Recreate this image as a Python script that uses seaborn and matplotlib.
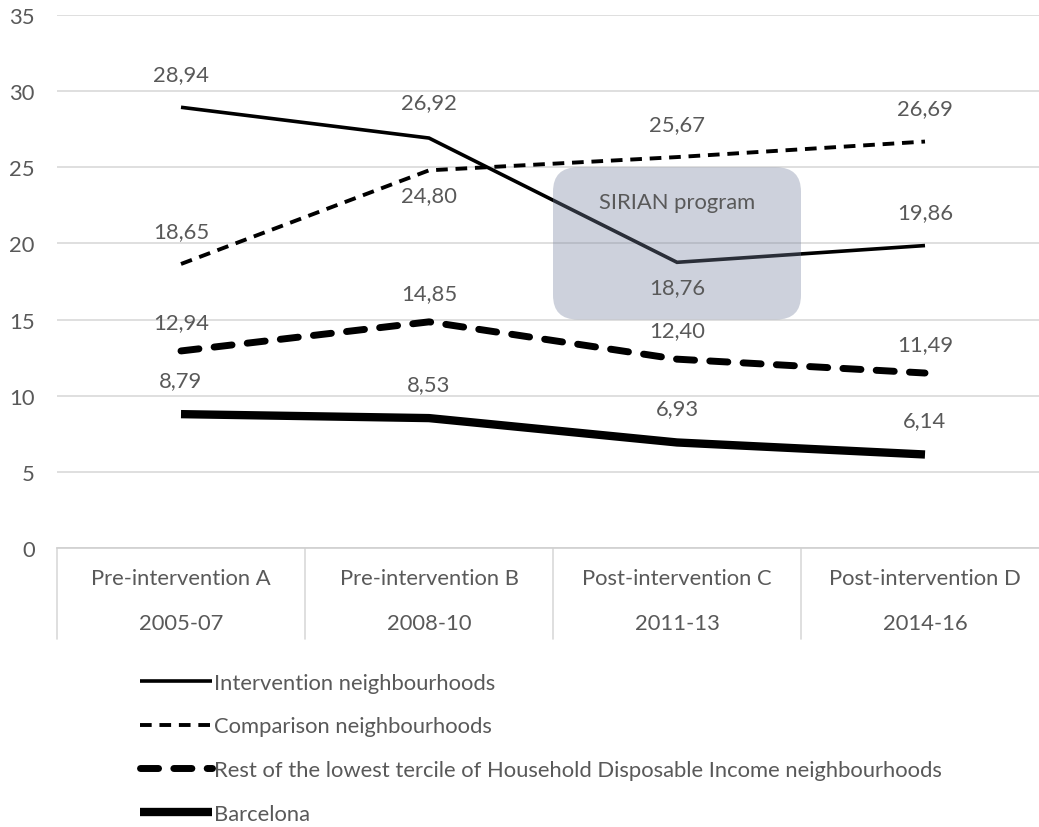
import matplotlib
matplotlib.use("Agg")
import matplotlib.pyplot as plt
import seaborn as sns
from matplotlib.patches import FancyBboxPatch
from matplotlib.lines import Line2D

categories = ["Pre-intervention A", "Pre-intervention B", "Post-intervention C", "Post-intervention D"]
periods = ["2005-07", "2008-10", "2011-13", "2014-16"]
intervention = [28.94, 26.92, 18.76, 19.86]
comparison = [18.65, 24.80, 25.67, 26.69]
rest_tercile = [12.94, 14.85, 12.40, 11.49]
barcelona = [8.79, 8.53, 6.93, 6.14]
series_names = ["Intervention neighbourhoods", "Comparison neighbourhoods",
                "Rest of the lowest tercile of Household Disposable Income neighbourhoods",
                "Barcelona"]
y_ticks = [0, 5, 10, 15, 20, 25, 30, 35]

sns.set_theme(style="white")
plt.rcParams['font.family'] = ['Lato', 'DejaVu Sans']
TXT = "#595959"
FS = 15.8

fig = plt.figure(figsize=(10.39, 8.28), dpi=100)
AX_L, AX_R, AX_T, AX_B = 57, 1049, 16, 549
ax = fig.add_axes([AX_L/1039, 1-AX_B/828, (AX_R-AX_L)/1039, (AX_B-AX_T)/828])
AXH = AX_B - AX_T

x = list(range(len(categories)))
styles = [
    dict(lw=2.6, ls="-", cap="butt"),
    dict(lw=2.8, ls=(0, (3.0, 2.0)), cap="butt"),
    dict(lw=5.0, ls=(0, (2.6, 2.2)), cap="round"),
    dict(lw=6.0, ls="-", cap="butt"),
]
data = [intervention, comparison, rest_tercile, barcelona]
for vals, st, name in zip(data, styles, series_names):
    sns.lineplot(x=x, y=vals, ax=ax, color="black", lw=st["lw"], linestyle=st["ls"],
                 solid_capstyle="butt", dash_capstyle=st["cap"], solid_joinstyle="miter", zorder=3)

# data labels: offsets (pixels)
offsets = [
    [33, 36, -25, 33],
    [33, -25, 33, 33],
    [29, 29, 29, 29],
    [34, 34, 34, 34],
]
for vals, offs in zip(data, offsets):
    for xi, v, o in zip(x, vals, offs):
        ax.annotate(f"{v:.2f}".replace(".", ","), (xi, v), xytext=(0, o),
                    textcoords="offset pixels", ha="center", va="center",
                    fontsize=FS, color=TXT, zorder=5)

ax.set_xlim(-0.5, 3.5)
ax.set_ylim(0, 35)
ax.set_yticks(y_ticks)
ax.set_yticklabels([str(t) for t in y_ticks], color=TXT, fontsize=FS)
ax.tick_params(axis="y", length=0, pad=16)
ax.yaxis.grid(True, color="#d9d9d9", lw=1.2)
ax.set_axisbelow(True)
for s in ["left", "right", "top"]:
    ax.spines[s].set_visible(False)
ax.spines["bottom"].set_color("#d0d0d0")
ax.spines["bottom"].set_linewidth(1.2)
ax.set_xticks([])
ax.set_xlabel("")
ax.set_ylabel("")

# category table
trans = ax.get_xaxis_transform()
for b in [-0.5, 0.5, 1.5, 2.5, 3.5]:
    ax.plot([b, b], [0, -91/AXH], transform=trans, color="#d9d9d9", lw=1.2, clip_on=False)
for xi, c, p in zip(x, categories, periods):
    ax.text(xi, -30/AXH, c, transform=trans, ha="center", va="center", fontsize=FS, color=TXT)
    ax.text(xi, -75/AXH, p, transform=trans, ha="center", va="center", fontsize=FS, color=TXT)

# SIRIAN program box
box = FancyBboxPatch((1.5 + 0.1, 15.0 + 1.6), 1.0 - 0.2, 10.0 - 3.2,
                     boxstyle="round,pad=0.1", mutation_aspect=16,
                     facecolor=(118/255, 130/255, 158/255), edgecolor="none", alpha=0.36, zorder=4)
ax.add_patch(box)
ax.text(2, 22.7, "SIRIAN program", ha="center", va="center", fontsize=FS, color=TXT, zorder=6)

# legend
handles = [Line2D([], [], color="black", lw=st["lw"], linestyle=st["ls"],
                  dash_capstyle=st["cap"], solid_capstyle="butt") for st in styles]
fig.legend(handles, series_names, loc="upper left", bbox_to_anchor=(133/1039, 1-667/828),
           frameon=False, fontsize=FS, handlelength=3.3, handletextpad=0.1,
           labelspacing=1.08, labelcolor=TXT, borderaxespad=0, borderpad=0.3)

fig.savefig("out.png", dpi=100)
